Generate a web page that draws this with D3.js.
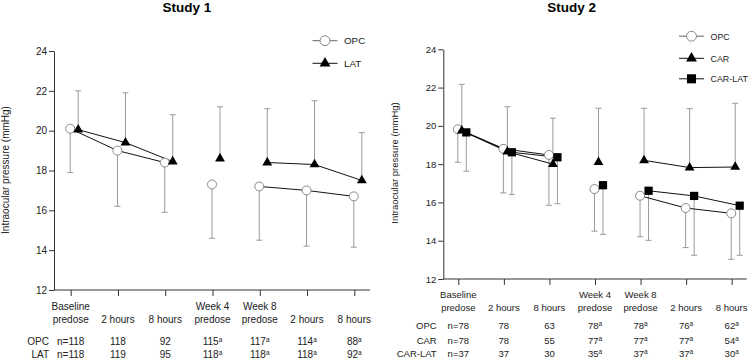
<!DOCTYPE html>
<html><head><meta charset="utf-8">
<script src="https://cdn.jsdelivr.net/npm/d3@7"></script>
<style>body{margin:0;background:#fff}svg{font-family:"Liberation Sans",Arial,sans-serif}</style>
</head><body><svg id="c" width="750" height="358"></svg>
<script>
// ---- data ----
const categories = ["Baseline predose","2 hours","8 hours","Week 4 predose","Week 8 predose","2 hours","8 hours"];
const catLine1 = ["Baseline","","","Week 4","Week 8","",""];
const catLine2 = ["predose","2 hours","8 hours","predose","predose","2 hours","8 hours"];
const yTicks = [12,14,16,18,20,22,24];
const segments = [[0,1,2],[4,5,6]];
const supFlag = [false,false,false,true,true,true,true];

// Study 1
const s1OpcMean  = [20.1, 19.0, 18.4, 17.3, 17.2, 17.0, 16.7];
const s1OpcLower = [17.9, 16.2, 15.9, 14.6, 14.5, 14.2, 14.15];
const s1LatMean  = [20.05, 19.4, 18.45, 18.6, 18.4, 18.3, 17.5];
const s1LatUpper = [22.0, 21.9, 20.8, 21.2, 21.1, 21.5, 19.9];
const s1OpcN = [118,118,92,115,117,114,88];
const s1LatN = [118,119,95,118,118,118,92];

// Study 2
const s2OpcMean  = [19.82, 18.8, 18.48, 16.7, 16.35, 15.71, 15.43];
const s2OpcLower = [18.1, 16.5, 15.85, 14.5, 14.21, 13.64, 13.03];
const s2CarMean  = [19.75, 18.65, 18.0, 18.1, 18.2, 17.82, 17.85];
const s2CarUpper = [22.17, 21.0, 20.4, 20.92, 20.92, 20.9, 21.18];
const s2ClMean   = [19.66, 18.62, 18.36, 16.9, 16.61, 16.34, 15.83];
const s2ClLower  = [17.63, 16.42, 15.93, 14.33, 14.02, 13.24, 13.24];
const s2OpcN = [78,78,63,78,78,76,62];
const s2CarN = [78,78,55,77,77,77,54];
const s2ClN  = [37,37,30,35,37,37,30];

const svg = d3.select("#c");
const ERR = "#9a9a9a", AX = "#333";

function panel(cfg){
  const g = svg.append("g");
  const fs = cfg.fs + "px";
  const y = d3.scaleLinear().domain([12,24]).range([cfg.yBot, cfg.yTop]);
  const x = d3.scalePoint().domain(d3.range(categories.length)).range([cfg.x0, cfg.x1]);
  // title
  g.append("text").attr("x",cfg.titleX).attr("y",11.5).attr("text-anchor","middle")
    .attr("font-weight","bold").attr("font-size","13.5px").text(cfg.title);
  // y axis
  const ya = g.append("g").attr("transform",`translate(${cfg.axX},0)`)
    .call(d3.axisLeft(y).tickValues(yTicks).tickSize(5).tickSizeOuter(0).tickPadding(2));
  ya.selectAll("text").attr("font-size",fs).attr("fill","#222").style("font-family","inherit");
  ya.selectAll("line,path").attr("stroke",AX);
  // x axis
  const xa = g.append("g").attr("transform",`translate(0,${cfg.yBot})`)
    .call(d3.axisBottom(x).tickSize(6).tickFormat(""));
  xa.select(".domain").remove();
  xa.selectAll("line").attr("stroke",AX);
  g.append("line").attr("x1",cfg.axX).attr("x2",cfg.axEnd).attr("y1",cfg.yBot).attr("y2",cfg.yBot).attr("stroke",AX);
  // y label
  g.append("text").attr("transform",`translate(${cfg.ylabX},${cfg.ylabY}) rotate(-90)`)
    .attr("text-anchor","middle").attr("font-size",fs).attr("fill","#222").text("Intraocular pressure (mmHg)");
  // category labels
  const lab = g.append("g").attr("font-size",fs).attr("fill","#222").attr("text-anchor","middle");
  catLine1.forEach((t,i)=>{ if(t) lab.append("text").attr("x",x(i)).attr("y",cfg.cat1Y).text(t); });
  catLine2.forEach((t,i)=>{ lab.append("text").attr("x",x(i)).attr("y",cfg.cat2Y).text(t); });
  // n rows
  cfg.nRows.forEach((row,r)=>{
    const yy = cfg.nY[r];
    g.append("text").attr("x",cfg.nLabX).attr("y",yy).attr("text-anchor","end").attr("font-size",fs).attr("fill","#222").text(row.name);
    row.n.forEach((v,i)=>{
      const t = g.append("text").attr("x",x(i)).attr("y",yy).attr("text-anchor","middle").attr("font-size",fs).attr("fill","#222");
      t.append("tspan").text((i===0?"n=":"")+v);
      if(supFlag[i]) t.append("tspan").attr("font-size","6.5px").attr("dy","-3").text("a");
    });
  });
  // series
  const series = cfg.series;
  // error bars
  series.forEach(s=>{
    s.mean.forEach((m,i)=>{
      const xx = x(i)+s.dx, e = s.err[i];
      g.append("line").attr("x1",xx).attr("x2",xx).attr("y1",y(m)).attr("y2",y(e)).attr("stroke",ERR).attr("stroke-width",1);
      g.append("line").attr("x1",xx-3).attr("x2",xx+3).attr("y1",y(e)).attr("y2",y(e)).attr("stroke",ERR).attr("stroke-width",1);
    });
  });
  // lines
  const line = d3.line().x(d=>d[0]).y(d=>d[1]);
  series.forEach(s=>{
    segments.forEach(seg=>{
      g.append("path").attr("d",line(seg.map(i=>[x(i)+s.dx,y(s.mean[i])]))).attr("fill","none").attr("stroke","#111").attr("stroke-width",1);
    });
  });
  // markers
  series.forEach(s=>{
    s.mean.forEach((m,i)=>{ drawMarker(g, s.shape, x(i)+s.dx, y(m)); });
  });
  // legend
  series.forEach((s,k)=>{
    const ly = cfg.legY[k];
    g.append("line").attr("x1",cfg.legX-12.5).attr("x2",cfg.legX+12.5).attr("y1",ly).attr("y2",ly)
      .attr("stroke", s.shape==="circle" ? "#666" : "#111");
    drawMarker(g, s.shape, cfg.legX, ly, 1.1);
    g.append("text").attr("x",cfg.legTextX).attr("y",ly+3.3).attr("font-size",cfg.legFs+"px").attr("fill","#222").text(s.name);
  });
}

function drawMarker(g, shape, cx, cy, k=1){
  if(shape==="circle"){
    g.append("circle").attr("cx",cx).attr("cy",cy).attr("r",4.5*k).attr("fill","#fff").attr("stroke","#888").attr("stroke-width",1);
  } else if(shape==="triangle"){
    g.append("path").attr("d",d3.symbol(d3.symbolTriangle, 42*k*k)()).attr("transform",`translate(${cx},${cy})`).attr("fill","#000");
  } else {
    g.append("path").attr("d",d3.symbol(d3.symbolSquare, 68*k*k)()).attr("transform",`translate(${cx},${cy})`).attr("fill","#000");
  }
}

panel({
  title:"Study 1", titleX:187, fs:10,
  yTop:51, yBot:290, x0:70.7, x1:354.3, axX:54, axEnd:370,
  ylabX:9, ylabY:170,
  cat1Y:309.5, cat2Y:323, nY:[344.5,357.5], nLabX:49,
  nRows:[{name:"OPC", n:s1OpcN},{name:"LAT", n:s1LatN}],
  legX:325, legY:[40.7,63.3], legTextX:344, legFs:9.8,
  series:[
    {name:"OPC", shape:"circle", dx:-0.5, mean:s1OpcMean, err:s1OpcLower},
    {name:"LAT", shape:"triangle", dx:7.5, mean:s1LatMean, err:s1LatUpper}
  ]
});

panel({
  title:"Study 2", titleX:571.7, fs:9.5,
  yTop:49.3, yBot:279, x0:458.3, x1:731.7, axX:443.3, axEnd:746.7,
  ylabX:398, ylabY:163,
  cat1Y:298.3, cat2Y:311.3, nY:[329.3,344.3,356.8], nLabX:436.7,
  nRows:[{name:"OPC", n:s2OpcN},{name:"CAR", n:s2CarN},{name:"CAR-LAT", n:s2ClN}],
  legX:691.5, legY:[36.2,58.3,78.8], legTextX:710.5, legFs:8.9,
  series:[
    {name:"OPC", shape:"circle", dx:-0.5, mean:s2OpcMean, err:s2OpcLower},
    {name:"CAR", shape:"triangle", dx:3.5, mean:s2CarMean, err:s2CarUpper},
    {name:"CAR-LAT", shape:"square", dx:8, mean:s2ClMean, err:s2ClLower}
  ]
});
</script></body></html>
